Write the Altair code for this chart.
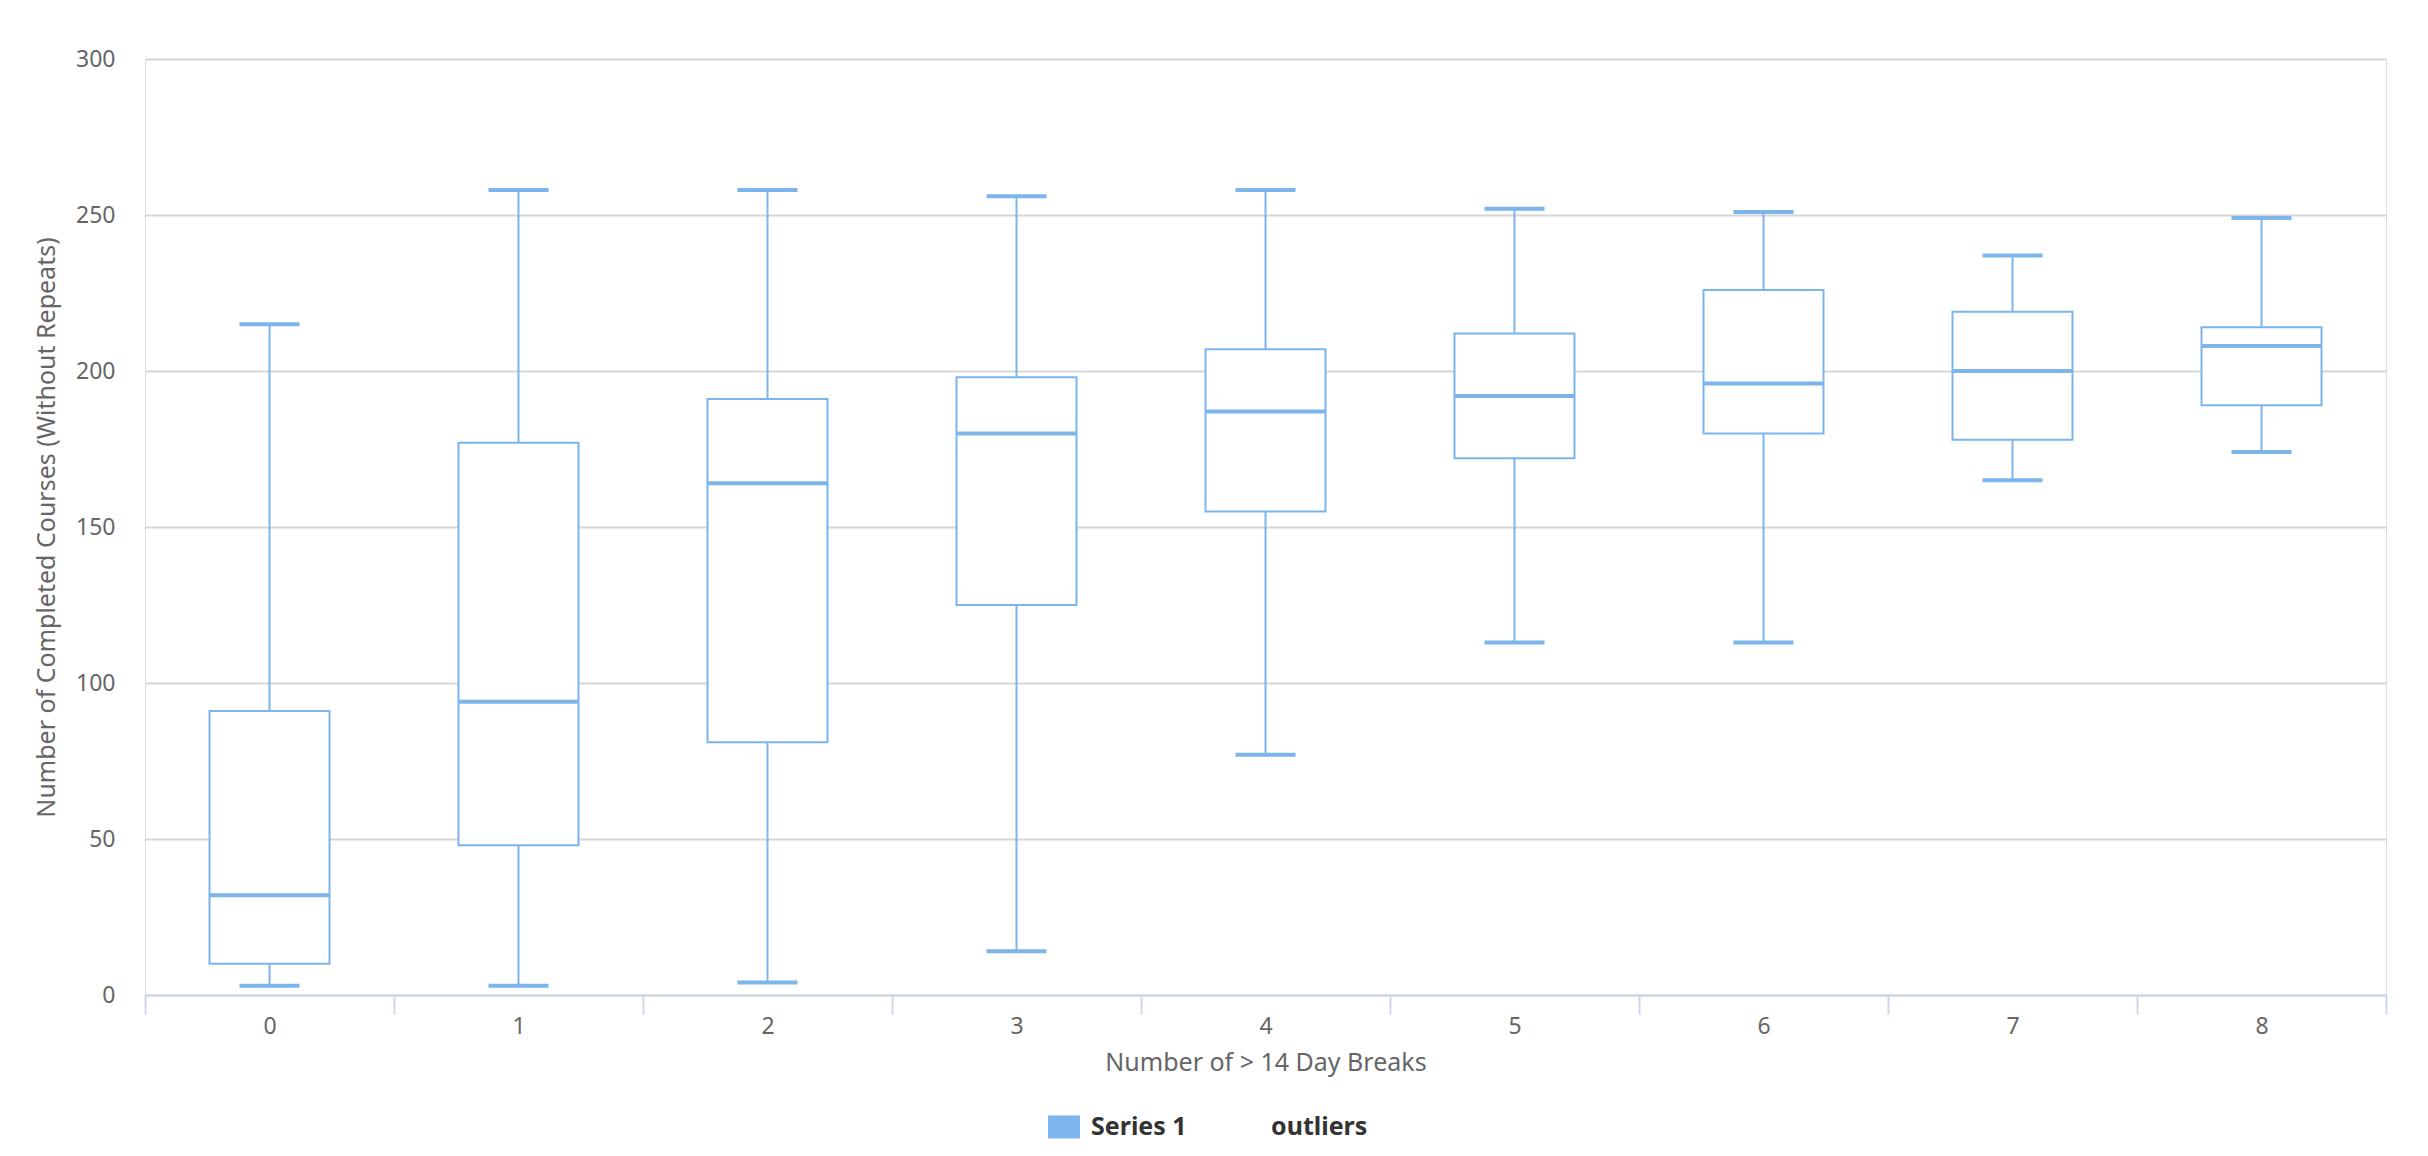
import altair as alt
import pandas as pd

# ---- data ----
categories = ["0", "1", "2", "3", "4", "5", "6", "7", "8"]
whisker_low = [3, 3, 4, 14, 77, 113, 113, 165, 174]
quartile_1 = [10, 48, 81, 125, 155, 172, 180, 178, 189]
median_vals = [32, 94, 164, 180, 187, 192, 196, 200, 208]
quartile_3 = [91, 177, 191, 198, 207, 212, 226, 219, 214]
whisker_high = [215, 258, 258, 256, 258, 252, 251, 237, 249]
series_names = ["Series 1", "outliers"]
y_ticks = [0, 50, 100, 150, 200, 250, 300]

BLUE = "#7cb5ec"
FONT = "Noto Sans"

df = pd.DataFrame({
    "cat": categories,
    "low": whisker_low,
    "q1": quartile_1,
    "median": median_vals,
    "q3": quartile_3,
    "high": whisker_high,
    "series": [series_names[0]] * len(categories),
})

x_enc = alt.X(
    "cat:N",
    sort=categories,
    scale=alt.Scale(paddingInner=0, paddingOuter=0),
    axis=alt.Axis(
        title="Number of > 14 Day Breaks",
        labelAngle=0,
        tickBand="extent",
        domainColor="#ccd6eb",
        domainWidth=2,
        tickColor="#ccd6eb",
        tickWidth=2,
        tickSize=19,
        labelColor="#666666",
        labelFontSize=23,
        labelPadding=1,
        labelFont=FONT,
        titleColor="#666666",
        titleFontSize=25,
        titleFontWeight="normal",
        titleFont=FONT,
        titleY=55,
        titleBaseline="top",
        grid=False,
    ),
)

y_scale = alt.Scale(domain=[0, 300], nice=False, zero=True)
y_axis = alt.Axis(
    title="Number of Completed Courses (Without Repeats)",
    values=y_ticks,
    domain=False,
    ticks=False,
    tickSize=0,
    labelPadding=30,
    labelColor="#666666",
    labelFontSize=23,
    labelFont=FONT,
    gridColor="#d6d6d6",
    gridWidth=2,
    titleColor="#666666",
    titleFontSize=25,
    titleFontWeight="normal",
    titleFont=FONT,
    titleAngle=270,
    titleX=-99,
    titleY=468,
    titleAlign="center",
    titleBaseline="middle",
)

base = alt.Chart(df)

color_enc = alt.Color(
    "series:N",
    scale=alt.Scale(domain=series_names, range=[BLUE, "rgba(255,255,255,0)"]),
    legend=alt.Legend(
        title=None,
        orient="none",
        legendX=903,
        legendY=1052,
        direction="horizontal",
        symbolType="M-1,-0.72H1V0.72H-1Z",
        symbolSize=1024,
        symbolStrokeWidth=0,
        symbolOpacity=1,
        labelFont=FONT,
        labelFontSize=25,
        labelFontWeight="bold",
        labelColor="#333333",
        labelOffset=11,
        columnPadding=41,
        padding=0,
    ),
)

lower_whisker = base.mark_rule(color=BLUE, strokeWidth=2).encode(
    x=x_enc, y=alt.Y("low:Q", scale=y_scale, axis=y_axis), y2="q1:Q"
)
upper_whisker = base.mark_rule(color=BLUE, strokeWidth=2).encode(
    x=x_enc, y=alt.Y("q3:Q", scale=y_scale, axis=y_axis), y2="high:Q"
)
box = base.mark_bar(width=120, fill="white", stroke=BLUE, strokeWidth=2).encode(
    x=x_enc, y=alt.Y("q1:Q", scale=y_scale, axis=y_axis), y2="q3:Q"
)
median = base.mark_tick(orient="horizontal", size=120, thickness=4, color=BLUE, opacity=1).encode(
    x=x_enc, y=alt.Y("median:Q", scale=y_scale, axis=y_axis)
)
cap_low = base.mark_tick(orient="horizontal", size=60, thickness=4, opacity=1).encode(
    x=x_enc, y=alt.Y("low:Q", scale=y_scale, axis=y_axis), color=color_enc
)
cap_high = base.mark_tick(orient="horizontal", size=60, thickness=4, opacity=1).encode(
    x=x_enc, y=alt.Y("high:Q", scale=y_scale, axis=y_axis), color=color_enc
)

chart = (
    alt.layer(lower_whisker, upper_whisker, box, median, cap_low, cap_high)
    .properties(
        width=2241,
        height=936,
        autosize=alt.AutoSizeParams(type="none"),
        padding={"left": 145, "top": 59, "right": 42, "bottom": 161},
        background="white",
    )
    .configure_view(stroke="transparent", strokeWidth=0)
    .configure(font=FONT)
)

chart.save("out.html", embed_options={"renderer": "svg", "actions": False})
